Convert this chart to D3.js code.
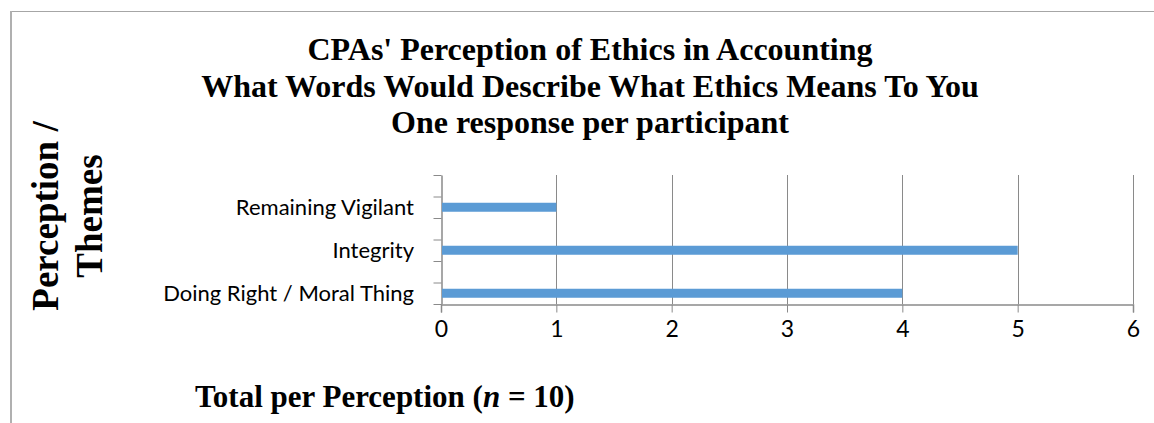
<!DOCTYPE html>
<html>
<head>
<meta charset="utf-8">
<script src="https://cdn.jsdelivr.net/npm/d3@7"></script>
<style>
  html, body { margin: 0; padding: 0; background: #fff; }
  svg { display: block; }
</style>
</head>
<body>
<svg id="chart" width="1154" height="423"></svg>
<script>
// ---- data ----
const titleLines = [
  "CPAs' Perception of Ethics in Accounting",
  "What Words Would Describe What Ethics Means To You",
  "One response per participant"
];
const categories = ["Remaining Vigilant", "Integrity", "Doing Right / Moral Thing"];
const values = [1, 5, 4];
const xTicks = [0, 1, 2, 3, 4, 5, 6];
const yTitleLines = ["Perception /", "Themes"];

// ---- layout ----
const W = 1154, H = 423;
const plot = { left: 441, right: 1133, top: 175, bottom: 304 };
const serif = "'Liberation Serif', 'Times New Roman', serif";
const sans = "Lato, 'Open Sans', sans-serif";
const gray = "#8a8a8a";

const svg = d3.select("#chart");

// outer border
svg.append("line").attr("x1", 11).attr("x2", W).attr("y1", 11.5).attr("y2", 11.5)
  .attr("stroke", "#a6a6a6").attr("stroke-width", 1);
svg.append("line").attr("x1", 11).attr("x2", 11).attr("y1", 11).attr("y2", H)
  .attr("stroke", "#b0b0b0").attr("stroke-width", 2);

// title
svg.append("g").selectAll("text").data(titleLines).join("text")
  .attr("x", 590).attr("y", (d, i) => 60 + i * 36.5)
  .attr("text-anchor", "middle")
  .attr("font-family", serif).attr("font-weight", "bold").attr("font-size", 32)
  .attr("fill", "#000").text(d => d);

// scales
const x = d3.scaleLinear().domain([0, 6]).range([plot.left, plot.right]);
const y = d3.scaleBand().domain(categories).range([plot.top, plot.bottom]).padding(0);
const slot = d3.scaleLinear().domain([0, categories.length * 2]).range([plot.top, plot.bottom]);

// vertical gridlines
svg.append("g").selectAll("line").data(xTicks.slice(1)).join("line")
  .attr("x1", d => Math.round(x(d)) + 0.5).attr("x2", d => Math.round(x(d)) + 0.5)
  .attr("y1", plot.top).attr("y2", plot.bottom)
  .attr("stroke", gray).attr("stroke-width", 1);

// x axis
const xAxis = svg.append("g").attr("transform", `translate(0,${plot.bottom + 0.5})`)
  .call(d3.axisBottom(x).tickValues(xTicks).tickFormat(d3.format("d")).tickSize(8).tickPadding(8));
xAxis.select(".domain").attr("stroke", gray).attr("stroke-width", 1.5);
xAxis.selectAll(".tick line").attr("stroke", gray);
xAxis.selectAll(".tick text").attr("font-family", sans).attr("font-size", 23).attr("fill", "#000");

// y axis (tick marks at category boundaries and midpoints)
const yAxis = svg.append("g").attr("transform", `translate(${plot.left + 0.5},0)`)
  .call(d3.axisLeft(slot).tickValues(d3.range(categories.length * 2 + 1)).tickFormat("").tickSize(8).tickSizeOuter(0));
yAxis.select(".domain").attr("stroke", gray).attr("stroke-width", 1.5);
yAxis.selectAll(".tick line").attr("stroke", gray);

// category labels
svg.append("g").selectAll("text").data(categories).join("text")
  .attr("x", plot.left - 27)
  .attr("y", d => y(d) + y.bandwidth() * 0.75)
  .attr("dy", "0.35em")
  .attr("text-anchor", "end")
  .attr("font-family", sans).attr("font-size", 22).attr("fill", "#000")
  .text(d => d);

// bars
const barH = 9;
svg.append("g").selectAll("rect").data(categories).join("rect")
  .attr("x", x(0) + 1)
  .attr("y", d => y(d) + y.bandwidth() * 0.75 - barH / 2)
  .attr("width", (d, i) => x(values[i]) - x(0) - 1)
  .attr("height", barH)
  .attr("fill", "#5B9BD5");

// y title
const cy = 216;
svg.append("g").selectAll("text").data(yTitleLines).join("text")
  .attr("transform", (d, i) => `translate(${58 + i * 43.5},${cy}) rotate(-90)`)
  .attr("text-anchor", "middle")
  .attr("font-family", serif).attr("font-weight", "bold").attr("font-size", 37)
  .attr("fill", "#000").text(d => d);

// x title
const xt = svg.append("text").attr("x", 195).attr("y", 407)
  .attr("font-family", serif).attr("font-weight", "bold").attr("font-size", 31).attr("fill", "#000");
xt.append("tspan").text("Total per Perception (");
xt.append("tspan").attr("font-style", "italic").text("n");
xt.append("tspan").text(" = 10)");
</script>
</body>
</html>
